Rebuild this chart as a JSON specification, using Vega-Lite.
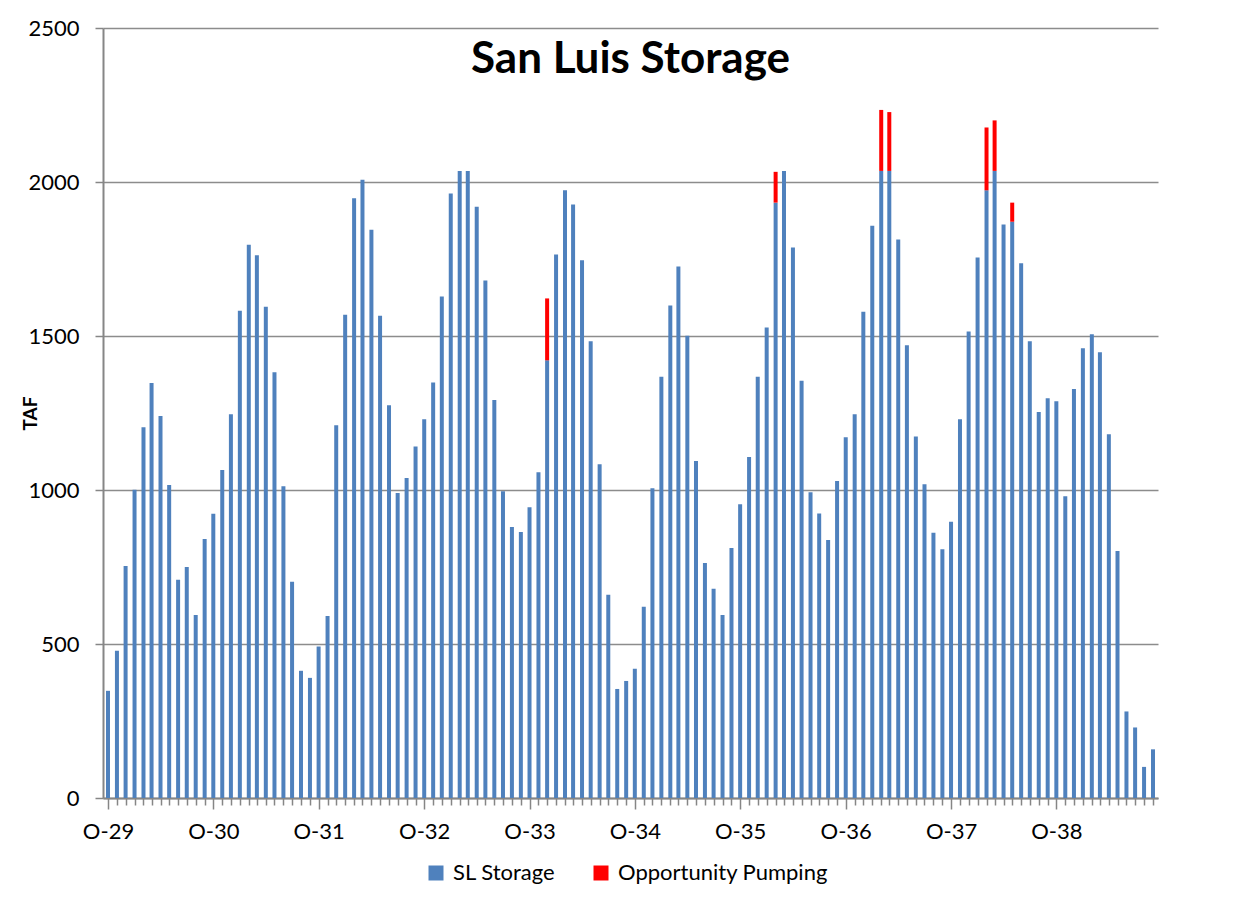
{
  "$schema": "https://vega.github.io/schema/vega-lite/v6.json",
  "autosize": {"type": "none"},
  "width": 1055,
  "height": 770,
  "padding": {"left": 103, "top": 28, "right": 95, "bottom": 113},
  "background": "white",
  "title": {
    "text": "San Luis Storage",
    "font": "Lato",
    "fontSize": 44,
    "fontWeight": "bold",
    "color": "black",
    "anchor": "middle",
    "baseline": "alphabetic",
    "offset": -100
  },
  "config": {
    "view": {"stroke": null},
    "axis": {"labelFont": "Lato", "labelFontSize": 22, "labelColor": "black", "titleFont": "Lato", "titleColor": "black"}
  },
  "data": {
    "values": [
      {"month": "1929-10-01", "SL Storage": 348, "Opportunity Pumping": 0},
      {"month": "1929-11-01", "SL Storage": 478, "Opportunity Pumping": 0},
      {"month": "1929-12-01", "SL Storage": 753, "Opportunity Pumping": 0},
      {"month": "1930-01-01", "SL Storage": 1001, "Opportunity Pumping": 0},
      {"month": "1930-02-01", "SL Storage": 1204, "Opportunity Pumping": 0},
      {"month": "1930-03-01", "SL Storage": 1347, "Opportunity Pumping": 0},
      {"month": "1930-04-01", "SL Storage": 1240, "Opportunity Pumping": 0},
      {"month": "1930-05-01", "SL Storage": 1016, "Opportunity Pumping": 0},
      {"month": "1930-06-01", "SL Storage": 709, "Opportunity Pumping": 0},
      {"month": "1930-07-01", "SL Storage": 750, "Opportunity Pumping": 0},
      {"month": "1930-08-01", "SL Storage": 594, "Opportunity Pumping": 0},
      {"month": "1930-09-01", "SL Storage": 841, "Opportunity Pumping": 0},
      {"month": "1930-10-01", "SL Storage": 923, "Opportunity Pumping": 0},
      {"month": "1930-11-01", "SL Storage": 1065, "Opportunity Pumping": 0},
      {"month": "1930-12-01", "SL Storage": 1246, "Opportunity Pumping": 0},
      {"month": "1931-01-01", "SL Storage": 1582, "Opportunity Pumping": 0},
      {"month": "1931-02-01", "SL Storage": 1796, "Opportunity Pumping": 0},
      {"month": "1931-03-01", "SL Storage": 1762, "Opportunity Pumping": 0},
      {"month": "1931-04-01", "SL Storage": 1595, "Opportunity Pumping": 0},
      {"month": "1931-05-01", "SL Storage": 1382, "Opportunity Pumping": 0},
      {"month": "1931-06-01", "SL Storage": 1012, "Opportunity Pumping": 0},
      {"month": "1931-07-01", "SL Storage": 702, "Opportunity Pumping": 0},
      {"month": "1931-08-01", "SL Storage": 413, "Opportunity Pumping": 0},
      {"month": "1931-09-01", "SL Storage": 390, "Opportunity Pumping": 0},
      {"month": "1931-10-01", "SL Storage": 492, "Opportunity Pumping": 0},
      {"month": "1931-11-01", "SL Storage": 591, "Opportunity Pumping": 0},
      {"month": "1931-12-01", "SL Storage": 1210, "Opportunity Pumping": 0},
      {"month": "1932-01-01", "SL Storage": 1569, "Opportunity Pumping": 0},
      {"month": "1932-02-01", "SL Storage": 1947, "Opportunity Pumping": 0},
      {"month": "1932-03-01", "SL Storage": 2007, "Opportunity Pumping": 0},
      {"month": "1932-04-01", "SL Storage": 1845, "Opportunity Pumping": 0},
      {"month": "1932-05-01", "SL Storage": 1566, "Opportunity Pumping": 0},
      {"month": "1932-06-01", "SL Storage": 1275, "Opportunity Pumping": 0},
      {"month": "1932-07-01", "SL Storage": 990, "Opportunity Pumping": 0},
      {"month": "1932-08-01", "SL Storage": 1039, "Opportunity Pumping": 0},
      {"month": "1932-09-01", "SL Storage": 1141, "Opportunity Pumping": 0},
      {"month": "1932-10-01", "SL Storage": 1230, "Opportunity Pumping": 0},
      {"month": "1932-11-01", "SL Storage": 1349, "Opportunity Pumping": 0},
      {"month": "1932-12-01", "SL Storage": 1628, "Opportunity Pumping": 0},
      {"month": "1933-01-01", "SL Storage": 1963, "Opportunity Pumping": 0},
      {"month": "1933-02-01", "SL Storage": 2036, "Opportunity Pumping": 0},
      {"month": "1933-03-01", "SL Storage": 2036, "Opportunity Pumping": 0},
      {"month": "1933-04-01", "SL Storage": 1920, "Opportunity Pumping": 0},
      {"month": "1933-05-01", "SL Storage": 1680, "Opportunity Pumping": 0},
      {"month": "1933-06-01", "SL Storage": 1292, "Opportunity Pumping": 0},
      {"month": "1933-07-01", "SL Storage": 996, "Opportunity Pumping": 0},
      {"month": "1933-08-01", "SL Storage": 880, "Opportunity Pumping": 0},
      {"month": "1933-09-01", "SL Storage": 864, "Opportunity Pumping": 0},
      {"month": "1933-10-01", "SL Storage": 944, "Opportunity Pumping": 0},
      {"month": "1933-11-01", "SL Storage": 1058, "Opportunity Pumping": 0},
      {"month": "1933-12-01", "SL Storage": 1421, "Opportunity Pumping": 201},
      {"month": "1934-01-01", "SL Storage": 1765, "Opportunity Pumping": 0},
      {"month": "1934-02-01", "SL Storage": 1973, "Opportunity Pumping": 0},
      {"month": "1934-03-01", "SL Storage": 1927, "Opportunity Pumping": 0},
      {"month": "1934-04-01", "SL Storage": 1746, "Opportunity Pumping": 0},
      {"month": "1934-05-01", "SL Storage": 1483, "Opportunity Pumping": 0},
      {"month": "1934-06-01", "SL Storage": 1084, "Opportunity Pumping": 0},
      {"month": "1934-07-01", "SL Storage": 660, "Opportunity Pumping": 0},
      {"month": "1934-08-01", "SL Storage": 354, "Opportunity Pumping": 0},
      {"month": "1934-09-01", "SL Storage": 380, "Opportunity Pumping": 0},
      {"month": "1934-10-01", "SL Storage": 420, "Opportunity Pumping": 0},
      {"month": "1934-11-01", "SL Storage": 621, "Opportunity Pumping": 0},
      {"month": "1934-12-01", "SL Storage": 1006, "Opportunity Pumping": 0},
      {"month": "1935-01-01", "SL Storage": 1368, "Opportunity Pumping": 0},
      {"month": "1935-02-01", "SL Storage": 1599, "Opportunity Pumping": 0},
      {"month": "1935-03-01", "SL Storage": 1726, "Opportunity Pumping": 0},
      {"month": "1935-04-01", "SL Storage": 1501, "Opportunity Pumping": 0},
      {"month": "1935-05-01", "SL Storage": 1094, "Opportunity Pumping": 0},
      {"month": "1935-06-01", "SL Storage": 763, "Opportunity Pumping": 0},
      {"month": "1935-07-01", "SL Storage": 679, "Opportunity Pumping": 0},
      {"month": "1935-08-01", "SL Storage": 594, "Opportunity Pumping": 0},
      {"month": "1935-09-01", "SL Storage": 812, "Opportunity Pumping": 0},
      {"month": "1935-10-01", "SL Storage": 954, "Opportunity Pumping": 0},
      {"month": "1935-11-01", "SL Storage": 1107, "Opportunity Pumping": 0},
      {"month": "1935-12-01", "SL Storage": 1368, "Opportunity Pumping": 0},
      {"month": "1936-01-01", "SL Storage": 1528, "Opportunity Pumping": 0},
      {"month": "1936-02-01", "SL Storage": 1933, "Opportunity Pumping": 100},
      {"month": "1936-03-01", "SL Storage": 2036, "Opportunity Pumping": 0},
      {"month": "1936-04-01", "SL Storage": 1787, "Opportunity Pumping": 0},
      {"month": "1936-05-01", "SL Storage": 1355, "Opportunity Pumping": 0},
      {"month": "1936-06-01", "SL Storage": 993, "Opportunity Pumping": 0},
      {"month": "1936-07-01", "SL Storage": 924, "Opportunity Pumping": 0},
      {"month": "1936-08-01", "SL Storage": 838, "Opportunity Pumping": 0},
      {"month": "1936-09-01", "SL Storage": 1029, "Opportunity Pumping": 0},
      {"month": "1936-10-01", "SL Storage": 1171, "Opportunity Pumping": 0},
      {"month": "1936-11-01", "SL Storage": 1246, "Opportunity Pumping": 0},
      {"month": "1936-12-01", "SL Storage": 1579, "Opportunity Pumping": 0},
      {"month": "1937-01-01", "SL Storage": 1858, "Opportunity Pumping": 0},
      {"month": "1937-02-01", "SL Storage": 2036, "Opportunity Pumping": 198},
      {"month": "1937-03-01", "SL Storage": 2036, "Opportunity Pumping": 191},
      {"month": "1937-04-01", "SL Storage": 1813, "Opportunity Pumping": 0},
      {"month": "1937-05-01", "SL Storage": 1470, "Opportunity Pumping": 0},
      {"month": "1937-06-01", "SL Storage": 1174, "Opportunity Pumping": 0},
      {"month": "1937-07-01", "SL Storage": 1019, "Opportunity Pumping": 0},
      {"month": "1937-08-01", "SL Storage": 861, "Opportunity Pumping": 0},
      {"month": "1937-09-01", "SL Storage": 808, "Opportunity Pumping": 0},
      {"month": "1937-10-01", "SL Storage": 897, "Opportunity Pumping": 0},
      {"month": "1937-11-01", "SL Storage": 1230, "Opportunity Pumping": 0},
      {"month": "1937-12-01", "SL Storage": 1515, "Opportunity Pumping": 0},
      {"month": "1938-01-01", "SL Storage": 1755, "Opportunity Pumping": 0},
      {"month": "1938-02-01", "SL Storage": 1973, "Opportunity Pumping": 204},
      {"month": "1938-03-01", "SL Storage": 2036, "Opportunity Pumping": 164},
      {"month": "1938-04-01", "SL Storage": 1862, "Opportunity Pumping": 0},
      {"month": "1938-05-01", "SL Storage": 1871, "Opportunity Pumping": 62},
      {"month": "1938-06-01", "SL Storage": 1736, "Opportunity Pumping": 0},
      {"month": "1938-07-01", "SL Storage": 1483, "Opportunity Pumping": 0},
      {"month": "1938-08-01", "SL Storage": 1253, "Opportunity Pumping": 0},
      {"month": "1938-09-01", "SL Storage": 1298, "Opportunity Pumping": 0},
      {"month": "1938-10-01", "SL Storage": 1288, "Opportunity Pumping": 0},
      {"month": "1938-11-01", "SL Storage": 980, "Opportunity Pumping": 0},
      {"month": "1938-12-01", "SL Storage": 1328, "Opportunity Pumping": 0},
      {"month": "1939-01-01", "SL Storage": 1460, "Opportunity Pumping": 0},
      {"month": "1939-02-01", "SL Storage": 1506, "Opportunity Pumping": 0},
      {"month": "1939-03-01", "SL Storage": 1447, "Opportunity Pumping": 0},
      {"month": "1939-04-01", "SL Storage": 1181, "Opportunity Pumping": 0},
      {"month": "1939-05-01", "SL Storage": 802, "Opportunity Pumping": 0},
      {"month": "1939-06-01", "SL Storage": 281, "Opportunity Pumping": 0},
      {"month": "1939-07-01", "SL Storage": 229, "Opportunity Pumping": 0},
      {"month": "1939-08-01", "SL Storage": 101, "Opportunity Pumping": 0},
      {"month": "1939-09-01", "SL Storage": 158, "Opportunity Pumping": 0}
    ]
  },
  "transform": [
    {"fold": ["SL Storage", "Opportunity Pumping"], "as": ["series", "taf"]}
  ],
  "mark": {"type": "bar", "size": 4, "clip": true, "stroke": null},
  "encoding": {
    "x": {
      "field": "month",
      "type": "temporal",
      "scale": {
        "type": "utc",
        "domain": [
          {"year": 1929, "month": 10, "date": 1, "utc": true},
          {"year": 1939, "month": 9, "date": 1, "utc": true}
        ],
        "nice": false
      },
      "axis": {
        "title": null,
        "tickCount": {"interval": "month", "step": 1},
        "labelExpr": "utcmonth(datum.value) == 9 ? 'O-' + utcFormat(datum.value, '%y') : ''",
        "labelOverlap": false,
        "labelFlush": false,
        "labelBound": false,
        "labelPadding": 12,
        "tickSize": {"condition": {"test": "utcmonth(datum.value) == 9", "value": 11}, "value": 7},
        "tickColor": "#868686",
        "tickWidth": 1.5,
        "domainColor": "#868686",
        "domainWidth": 2,
        "grid": false
      }
    },
    "y": {
      "field": "taf",
      "type": "quantitative",
      "stack": "zero",
      "scale": {"domain": [0, 2500], "nice": false},
      "axis": {
        "title": "TAF",
        "titleFontSize": 19,
        "titleFontWeight": "bold",
        "titleX": -67,
        "titleY": 385,
        "titleAngle": -90,
        "titleBaseline": "alphabetic",
        "titleAlign": "center",
        "values": [0, 500, 1000, 1500, 2000, 2500],
        "format": "d",
        "labelPadding": 16,
        "tickSize": 8,
        "tickColor": "#868686",
        "tickWidth": 1.5,
        "domainColor": "#868686",
        "domainWidth": 2,
        "grid": true,
        "gridColor": "#8c8c8c",
        "gridWidth": 1.5
      }
    },
    "color": {
      "field": "series",
      "type": "nominal",
      "sort": ["SL Storage", "Opportunity Pumping"],
      "scale": {"domain": ["SL Storage", "Opportunity Pumping"], "range": ["#4F81BD", "#FF0000"]},
      "legend": {
        "title": null,
        "orient": "none",
        "direction": "horizontal",
        "legendX": 322,
        "legendY": 834,
        "symbolType": "square",
        "symbolSize": 225,
        "symbolStrokeWidth": 0,
        "symbolOpacity": 1,
        "labelFont": "Lato",
        "labelFontSize": 22,
        "labelLimit": 0,
        "labelColor": "black",
        "labelOffset": 6,
        "columnPadding": 34
      }
    },
    "order": {"field": "series", "sort": "descending"}
  }
}
